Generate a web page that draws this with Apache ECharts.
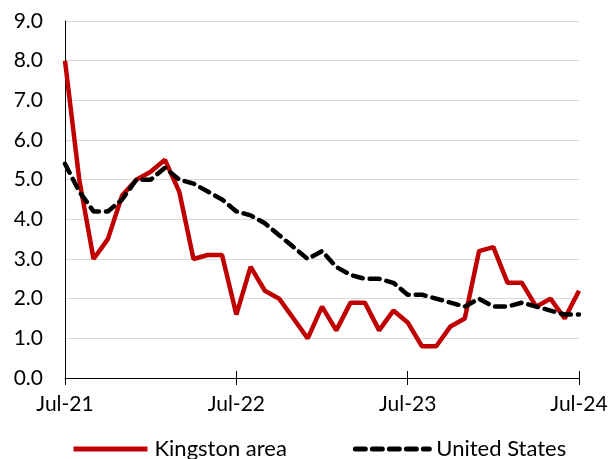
<!DOCTYPE html>
<html>
<head>
<meta charset="utf-8">
<script src="https://cdn.jsdelivr.net/npm/echarts@6/dist/echarts.min.js"></script>
<style>
  html, body { margin: 0; padding: 0; background: #fff; }
  #chart { width: 611px; height: 459px; }
</style>
</head>
<body>
<div id="chart"></div>
<script>
// monthly, Jul-21 .. Jul-24
const months = [
  'Jul-21', 'Aug-21', 'Sep-21', 'Oct-21', 'Nov-21', 'Dec-21',
  'Jan-22', 'Feb-22', 'Mar-22', 'Apr-22', 'May-22', 'Jun-22',
  'Jul-22', 'Aug-22', 'Sep-22', 'Oct-22', 'Nov-22', 'Dec-22',
  'Jan-23', 'Feb-23', 'Mar-23', 'Apr-23', 'May-23', 'Jun-23',
  'Jul-23', 'Aug-23', 'Sep-23', 'Oct-23', 'Nov-23', 'Dec-23',
  'Jan-24', 'Feb-24', 'Mar-24', 'Apr-24', 'May-24', 'Jun-24',
  'Jul-24'
]
const kingston = [
  8.0, 5.0, 3.0, 3.5, 4.6, 5.0,
  5.2, 5.5, 4.7, 3.0, 3.1, 3.1,
  1.6, 2.8, 2.2, 2.0, 1.5, 1.0,
  1.8, 1.2, 1.9, 1.9, 1.2, 1.7,
  1.4, 0.8, 0.8, 1.3, 1.5, 3.2,
  3.3, 2.4, 2.4, 1.8, 2.0, 1.5,
  2.2
]
const unitedStates = [
  5.4, 4.7, 4.2, 4.2, 4.5, 5.0,
  5.0, 5.3, 5.0, 4.9, 4.7, 4.5,
  4.2, 4.1, 3.9, 3.6, 3.3, 3.0,
  3.2, 2.8, 2.6, 2.5, 2.5, 2.4,
  2.1, 2.1, 2.0, 1.9, 1.8, 2.0,
  1.8, 1.8, 1.9, 1.8, 1.7, 1.6,
  1.6
]

const font = 'Lato'
const chart = echarts.init(document.getElementById('chart'))

const option = {
  animation: false,
  textStyle: { fontFamily: font },
  grid: { left: 65, right: 32, top: 21, bottom: 81 },
  legend: {
    left: 66,
    top: 433,
    itemWidth: 74,
    itemHeight: 14,
    itemGap: 66,
    itemStyle: { opacity: 0 },
    lineStyle: { width: 5 },
    textStyle: { fontFamily: font, fontSize: 22, color: '#000', padding: [0, 0, 0, 2] },
    data: ['Kingston area', 'United States']
  },
  xAxis: [
    {
      type: 'category',
      data: months,
      boundaryGap: false,
      axisLine: { lineStyle: { color: '#000', width: 1 } },
      axisTick: { interval: 11, length: 7, lineStyle: { color: '#000' } },
      axisLabel: {
        interval: 11,
        margin: 16,
        fontFamily: font,
        fontSize: 21,
        color: '#000'
      },
      splitLine: { show: false }
    },
    {
      // inward half of the crossing ticks
      type: 'category',
      data: months,
      position: 'bottom',
      boundaryGap: false,
      axisLine: { show: false },
      axisTick: { inside: true, interval: 11, length: 7, lineStyle: { color: '#000' } },
      axisLabel: { show: false },
      splitLine: { show: false }
    }
  ],
  yAxis: {
    type: 'value',
    min: 0,
    max: 9,
    interval: 1,
    axisLine: { show: true, lineStyle: { color: '#000', width: 1 } },
    axisTick: { show: false },
    axisLabel: {
      margin: 22,
      fontFamily: font,
      fontSize: 21,
      color: '#000',
      formatter: v => v.toFixed(1)
    },
    splitLine: { lineStyle: { color: '#d9d9d9', width: 1 } }
  },
  series: [
    {
      name: 'Kingston area',
      type: 'line',
      data: kingston,
      symbol: 'none',
      color: '#c00000',
      lineStyle: { color: '#c00000', width: 4.5 }
    },
    {
      name: 'United States',
      type: 'line',
      data: unitedStates,
      symbol: 'none',
      color: '#000',
      z: 3,
      lineStyle: { color: '#000', width: 4.5, type: [10, 7], cap: 'round' }
    }
  ]
}

chart.setOption(option)
</script>
</body>
</html>
